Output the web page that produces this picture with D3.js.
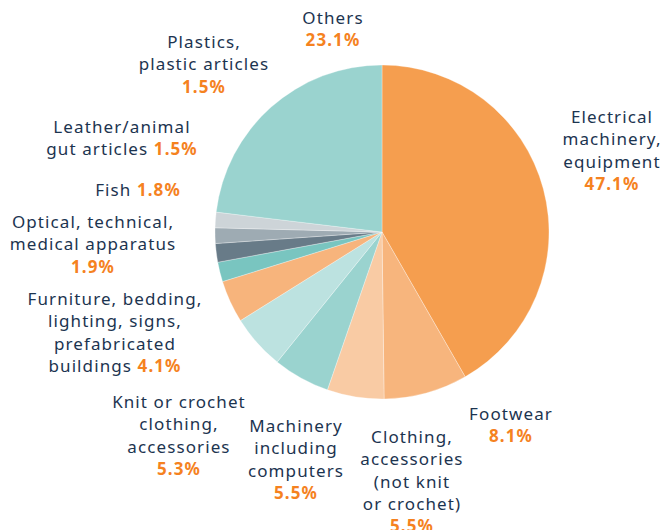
<!DOCTYPE html>
<html>
<head>
<meta charset="utf-8">
<script src="https://cdn.jsdelivr.net/npm/d3@7"></script>
<style>
  body { margin: 0; background: #fff; }
  text { font-family: "Noto Sans", "Open Sans", sans-serif; }
</style>
</head>
<body>
<div id="chart"></div>
<script>
// categories, clockwise from 12 o'clock
var categories = [
  "Electrical machinery, equipment",
  "Footwear",
  "Clothing, accessories (not knit or crochet)",
  "Machinery including computers",
  "Knit or crochet clothing, accessories",
  "Furniture, bedding, lighting, signs, prefabricated buildings",
  "Optical, technical, medical apparatus",
  "Fish",
  "Leather/animal gut articles",
  "Plastics, plastic articles",
  "Others"
];
// slice sizes as drawn in the picture (the big slice is drawn at ~41.7)
var shares = [41.7, 8.1, 5.5, 5.5, 5.3, 4.1, 1.9, 1.8, 1.5, 1.5, 23.1];
// percentages as printed on the labels
var printed = ["47.1%", "8.1%", "5.5%", "5.5%", "5.3%", "4.1%", "1.9%", "1.8%", "1.5%", "1.5%", "23.1%"];
// label text lines; the last line gets the value appended when inline
var labelLines = [
  ["Electrical", "machinery,", "equipment"],
  ["Footwear"],
  ["Clothing,", "accessories", "(not knit", "or crochet)"],
  ["Machinery", "including", "computers"],
  ["Knit or crochet", "clothing,", "accessories"],
  ["Furniture, bedding,", "lighting, signs,", "prefabricated", "buildings"],
  ["Optical, technical,", "medical apparatus"],
  ["Fish"],
  ["Leather/animal", "gut articles"],
  ["Plastics,", "plastic articles"],
  ["Others"]
];
var inlineValue = [false, false, false, false, false, true, false, true, true, false, false];

var colors = ["#f59e4f", "#f7b57d", "#f9cba4", "#9ad3cf", "#bce2e0", "#f7b47c",
              "#79c5c0", "#687b88", "#9eabb3", "#cdd4d8", "#9ad3cf"];

// label block centre x and first baseline y
var labelPos = [
  [612, 123], [511, 420], [412, 443], [296, 432], [179, 408], [115, 305],
  [93, 228], [138, 196], [122, 133], [204, 48], [333, 24]
];

var width = 665, height = 530;
var cx = 382, cy = 232, radius = 167;
var lineH = 22.3;

var svg = d3.select("#chart").append("svg")
  .attr("width", width)
  .attr("height", height);

var pie = d3.pie().sort(null).value(function(d) { return d; });
var arc = d3.arc().innerRadius(0).outerRadius(radius);

var g = svg.append("g")
  .attr("transform", "translate(" + cx + "," + cy + ")");

g.selectAll("path")
  .data(pie(shares))
  .enter().append("path")
  .attr("d", arc)
  .attr("fill", function(d, i) { return colors[i]; })
  .attr("stroke", "#ffffff")
  .attr("stroke-opacity", 0.5)
  .attr("stroke-width", 0.6);

// labels
var labels = svg.append("g");
categories.forEach(function(c, i) {
  var t = labels.append("text")
    .attr("x", labelPos[i][0])
    .attr("y", labelPos[i][1])
    .attr("text-anchor", "middle")
    .attr("font-size", 17)
    .attr("letter-spacing", 1.1)
    .attr("fill", "#1c3450");
  var lines = labelLines[i];
  lines.forEach(function(l, k) {
    t.append("tspan")
      .attr("x", labelPos[i][0])
      .attr("dy", k === 0 ? 0 : lineH)
      .text(l);
    if (k === lines.length - 1 && inlineValue[i]) {
      t.append("tspan")
        .attr("fill", "#f5821f")
        .attr("font-weight", "bold")
        .text(" " + printed[i]);
    }
  });
  if (!inlineValue[i]) {
    t.append("tspan")
      .attr("x", labelPos[i][0])
      .attr("dy", lineH)
      .attr("fill", "#f5821f")
      .attr("font-weight", "bold")
      .text(printed[i]);
  }
});
</script>
</body>
</html>
